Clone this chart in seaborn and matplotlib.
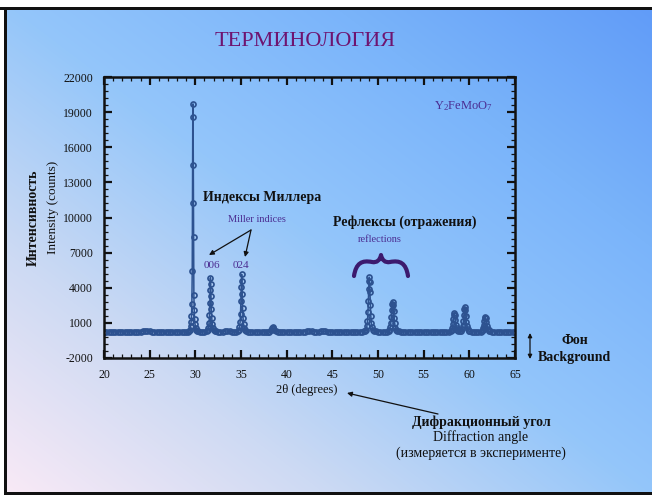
import numpy as np
import pandas as pd
import matplotlib
matplotlib.use("Agg")
import matplotlib.pyplot as plt
from matplotlib.path import Path
from matplotlib.patches import PathPatch, Rectangle
import seaborn as sns

nan = np.nan

# Background counts sampled every 0.25 deg; nan where a reflection covers the grid
bg_theta = np.arange(20.0, 65.001, 0.25)
bg_counts = [
    250, 246, 242, 248, 238, 244, 250, 240, 244, 252, 242, 238, 246, 250, 244, 240, 262, 300, 330, 298,
    268, 250, 244, 240, 246, 250, 242, 238, 244, 248, 242, 238, 244, 250, 246, 242, 246, 262, nan, nan,
    nan, 282, 262, 252, 248, nan, nan, nan, nan, 266, 250, 248, 256, 292, 318, 282, 256, 248, 252, nan,
    nan, nan, nan, 262, 250, 246, 250, 256, 252, 250, 248, 252, 262, nan, nan, nan, 252, 246, 244, 248,
    246, 240, 246, 250, 242, 238, 246, 250, 262, 300, 330, 298, 262, 250, 258, 280, 296, 270, 252, 246,
    246, 240, 246, 250, 244, 238, 242, 248, 244, 240, 246, 250, 248, 256, 270, nan, nan, nan, nan, 272,
    256, 250, 248, 252, 262, nan, nan, nan, nan, 268, 254, 248, 244, 250, 252, 246, 242, 248, 250, 246,
    246, 242, 248, 252, 246, 244, 250, 256, 248, 246, 252, 262, nan, nan, nan, nan, 320, nan, nan, nan,
    290, 262, 252, 248, 250, 262, nan, nan, nan, 270, 256, 248, 244, 250, 248, 244, 246, 250, 246, 248,
    250,
]

# Reflections (2theta in degrees, counts)
r1_theta = [29.30, 29.40, 29.48, 29.54, 29.58, 29.62, 29.66, 29.69, 29.72, 29.75,
            29.78, 29.81, 29.84, 29.88, 29.92, 29.97, 30.03, 30.10, 30.20]
r1_counts = [300, 420, 700, 1100, 1600, 2600, 5400, 11200, 18600, 19700,
             14500, 8300, 3400, 2100, 1300, 900, 600, 420, 300]

r006_theta = [31.25, 31.35, 31.43, 31.50, 31.55, 31.59, 31.62, 31.65,
              31.68, 31.71, 31.75, 31.80, 31.86, 31.93, 32.02, 32.12]
r006_counts = [280, 380, 600, 1000, 1700, 2700, 3800, 4850,
               4300, 3300, 2200, 1400, 900, 550, 380, 290]

r024_theta = [34.65, 34.75, 34.83, 34.90, 34.95, 34.99, 35.03, 35.07,
              35.10, 35.13, 35.17, 35.22, 35.28, 35.35, 35.44, 35.54]
r024_counts = [280, 380, 620, 1050, 1800, 2900, 4100, 5150,
               4600, 3500, 2300, 1450, 900, 560, 380, 290]

r4_theta = [38.10, 38.25, 38.35, 38.45, 38.55, 38.65, 38.80]
r4_counts = [260, 360, 520, 660, 520, 360, 270]

r5_theta = [48.60, 48.70, 48.78, 48.85, 48.90, 48.94, 48.98, 49.02, 49.05,
            49.08, 49.12, 49.16, 49.21, 49.27, 49.34, 49.43, 49.55]
r5_counts = [300, 420, 700, 1150, 1900, 2900, 3900, 4600, 4900,
             4500, 3600, 2500, 1600, 1000, 650, 420, 300]

r6_theta = [51.15, 51.25, 51.33, 51.40, 51.45, 51.50, 51.55, 51.60,
            51.65, 51.70, 51.76, 51.83, 51.91, 52.00, 52.12]
r6_counts = [290, 400, 620, 1000, 1500, 2100, 2600, 2800,
             2550, 2050, 1450, 950, 600, 420, 300]

r7_theta = [57.95, 58.05, 58.13, 58.20, 58.26, 58.31, 58.35,
            58.40, 58.46, 58.52, 58.60, 58.70, 58.80]
r7_counts = [280, 380, 560, 880, 1300, 1700, 1850,
             1650, 1250, 850, 560, 400, 320]

r8_theta = [59.10, 59.20, 59.28, 59.35, 59.41, 59.46, 59.50,
            59.55, 59.61, 59.67, 59.75, 59.85, 59.97]
r8_counts = [330, 450, 700, 1150, 1700, 2150, 2350,
             2100, 1600, 1100, 700, 450, 310]

r9_theta = [61.35, 61.45, 61.53, 61.60, 61.66, 61.71, 61.75,
            61.80, 61.86, 61.93, 62.01, 62.10, 62.20]
r9_counts = [280, 370, 540, 820, 1150, 1420, 1500,
             1380, 1050, 720, 480, 350, 280]

x_ticks = [20, 25, 30, 35, 40, 45, 50, 55, 60, 65]
y_ticks = [-2000, 1000, 4000, 7000, 10000, 13000, 16000, 19000, 22000]

# ---------------------------------------------------------------------------
all_theta = np.concatenate([bg_theta, r1_theta, r006_theta, r024_theta, r4_theta,
                            r5_theta, r6_theta, r7_theta, r8_theta, r9_theta])
all_counts = np.concatenate([bg_counts, r1_counts, r006_counts, r024_counts, r4_counts,
                             r5_counts, r6_counts, r7_counts, r8_counts, r9_counts])
df = (pd.DataFrame({"two_theta": all_theta, "counts": all_counts})
      .dropna().sort_values("two_theta").reset_index(drop=True))

sns.set_style("ticks")
plt.rcParams["font.family"] = ["Liberation Serif", "DejaVu Serif"]
plt.rcParams["axes.unicode_minus"] = False
plt.rcParams["mathtext.fontset"] = "custom"
plt.rcParams["mathtext.rm"] = "Liberation Serif"
plt.rcParams["mathtext.it"] = "Liberation Serif:italic"

W, H = 652, 495
fig = plt.figure(figsize=(W / 100, H / 100), dpi=100)

# slide background: diagonal gradient from pale pink (bottom-left) to blue (top-right)
bg = fig.add_axes([0, 0, 1, 1], zorder=-5)
yy, xx = np.mgrid[0:H, 0:W]
t = (xx / (W - 1) + (1 - yy / (H - 1))) / 2
stops = [0.0, 0.25, 0.5, 0.75, 1.0]
cols = np.array([[250, 234, 246], [205, 218, 243], [148, 198, 250],
                 [122, 180, 250], [96, 155, 248]]) / 255.0
img = np.dstack([np.interp(t, stops, cols[:, k]) for k in range(3)])
bg.imshow(img, extent=[0, W, H, 0], aspect="auto", interpolation="bilinear")
bg.set_xlim(0, W)
bg.set_ylim(H, 0)
bg.axis("off")
bg.add_patch(Rectangle((0, 0), W, 7, color="white", lw=0))
bg.add_patch(Rectangle((0, 0), 4, H, color="white", lw=0))
bg.add_patch(Rectangle((0, 7), W, 3, color="#111111", lw=0))
bg.add_patch(Rectangle((4, 7), 3, H, color="#111111", lw=0))
bg.add_patch(Rectangle((4, H - 3), W, 3, color="#111111", lw=0))

# diffraction pattern
ax = fig.add_axes([104 / W, 1 - 358 / H, 411 / W, 281 / H])
ax.patch.set_alpha(0)
line_c = "#2d5290"
sns.lineplot(data=df, x="two_theta", y="counts", ax=ax, estimator=None, errorbar=None,
             color=line_c, lw=1.1, marker="o", markersize=3.6,
             markerfacecolor="none", markeredgecolor=line_c, markeredgewidth=1.25)
ax.set_xlim(20, 65)
ax.set_ylim(-2000, 22000)
ax.set_xticks(x_ticks)
ax.set_yticks(y_ticks)
ax.set_xticks(np.arange(20, 66, 1), minor=True)
ax.set_yticks(np.arange(-2000, 22001, 600), minor=True)
ax.set_xlabel("")
ax.set_ylabel("")
ax.tick_params(which="both", direction="in", top=True, right=True, colors="#111111",
               labelsize=8.5)
ax.tick_params(which="major", length=5.5, width=1.6, pad=8)
ax.tick_params(which="minor", length=3, width=0.9)
for s in ax.spines.values():
    s.set_linewidth(1.8)
    s.set_color("#111111")

# annotation layer in pixel coordinates (origin top-left)
ov = fig.add_axes([0, 0, 1, 1], zorder=10)
ov.set_xlim(0, W)
ov.set_ylim(H, 0)
ov.axis("off")

purple = "#4b2d92"
ink = "#111111"

ov.text(305, 41, "ТЕРМИНОЛОГИЯ", ha="center", va="center", fontsize=16, color="#6e1470")
ov.text(463, 106, r"$\mathrm{Y_2FeMoO_7}$", ha="center", va="center", fontsize=9, color=purple)

ov.text(33, 218, "Интенсивность", ha="center", va="center", rotation=90,
        fontsize=10, fontweight="bold", color=ink)
ov.text(53, 207, "Intensity (counts)", ha="center", va="center", rotation=90,
        fontsize=9.5, color=ink)
ov.text(307, 390, "2θ (degrees)", ha="center", va="center", fontsize=9, color=ink)

ov.text(262, 198, "Индексы Миллера", ha="center", va="center", fontsize=10,
        fontweight="bold", color=ink)
ov.text(257, 219, "Miller indices", ha="center", va="center", fontsize=7.5, color=purple)
ov.text(212, 266, "006", ha="center", va="center", fontsize=8, color=purple)
ov.text(241, 265, "024", ha="center", va="center", fontsize=8, color=purple)

ov.text(405, 222, "Рефлексы (отражения)", ha="center", va="center", fontsize=10,
        fontweight="bold", color=ink)
ov.text(380, 240, "reflections", ha="center", va="center", fontsize=7.5, color=purple)

ov.text(575, 341, "Фон", ha="center", va="center", fontsize=10, fontweight="bold", color=ink)
ov.text(574, 357, "Background", ha="center", va="center", fontsize=10,
        fontweight="bold", color=ink)

ov.text(481, 422, "Дифракционный угол", ha="center", va="center", fontsize=10,
        fontweight="bold", color=ink)
ov.text(481, 437, "Diffraction angle", ha="center", va="center", fontsize=10, color=ink)
ov.text(481, 453, "(измеряется в эксперименте)", ha="center", va="center",
        fontsize=10, color=ink)

arrow = dict(arrowstyle="-|>", color=ink, lw=0.9, mutation_scale=7, shrinkA=0, shrinkB=0)
ov.annotate("", xy=(209, 255), xytext=(251, 230), arrowprops=arrow)
ov.annotate("", xy=(245, 257), xytext=(251, 230), arrowprops=arrow)
ov.annotate("", xy=(347, 393), xytext=(438, 414), arrowprops=arrow)
ov.annotate("", xy=(530, 333), xytext=(530, 359),
            arrowprops=dict(arrowstyle="<|-|>", color=ink, lw=0.9, mutation_scale=6,
                            shrinkA=0, shrinkB=0))

# curly brace over the reflections
brace = Path(
    [(354, 276), (356, 263), (362, 260), (372, 262),
     (377, 263), (380, 260), (381, 255),
     (382, 260), (385, 263), (390, 262),
     (400, 260), (406, 263), (408, 276)],
    [Path.MOVETO, Path.CURVE4, Path.CURVE4, Path.CURVE4,
     Path.CURVE4, Path.CURVE4, Path.CURVE4,
     Path.CURVE4, Path.CURVE4, Path.CURVE4,
     Path.CURVE4, Path.CURVE4, Path.CURVE4])
ov.add_patch(PathPatch(brace, facecolor="none", edgecolor="#3c1a6e", lw=3.0,
                       capstyle="round", joinstyle="round"))

fig.savefig("out.png", dpi=100)
